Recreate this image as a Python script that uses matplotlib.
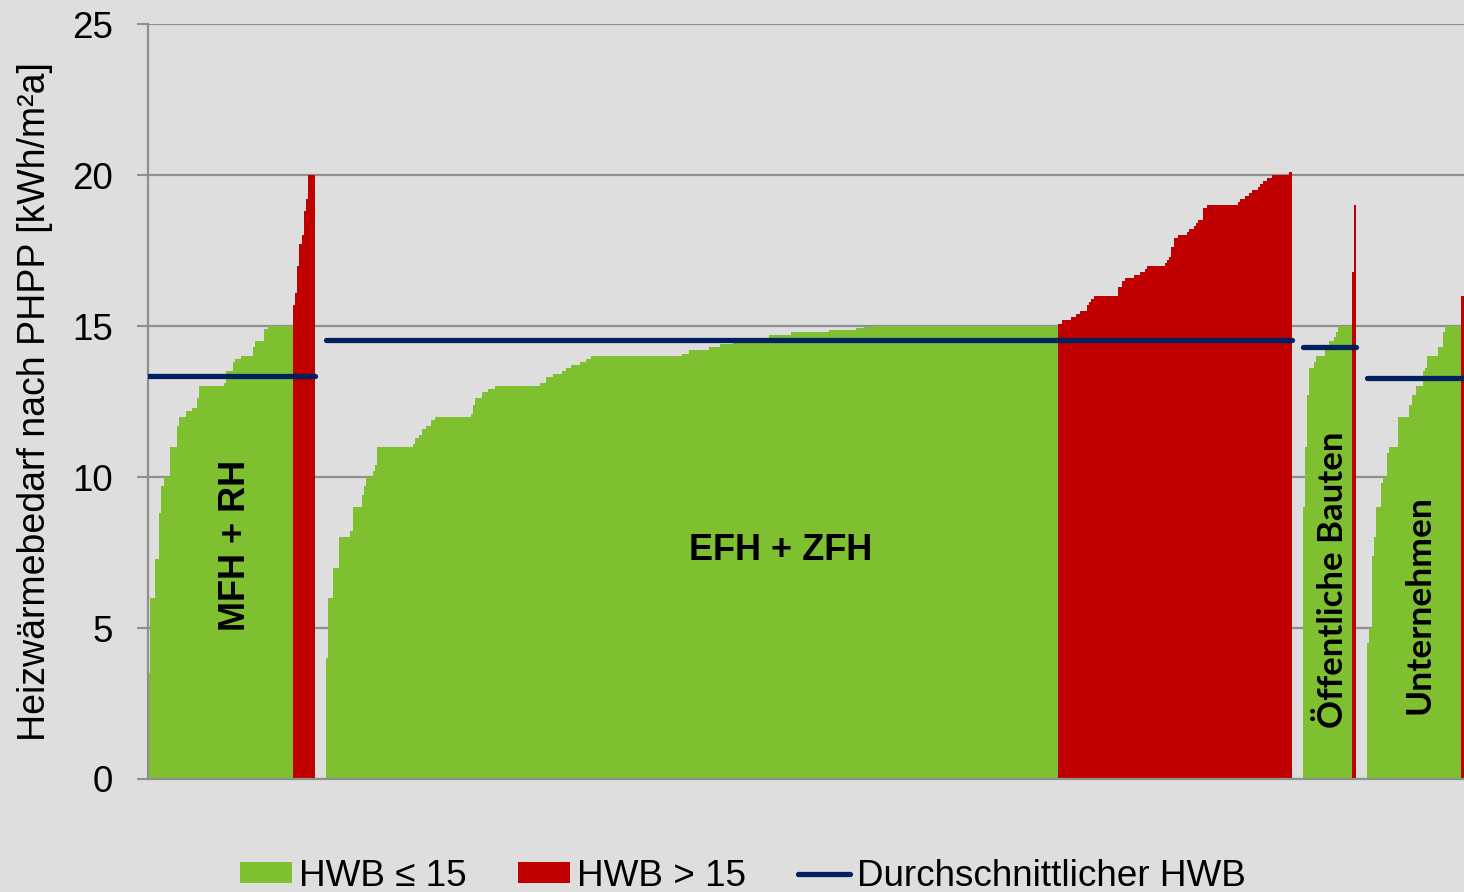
import numpy as np
import matplotlib
matplotlib.use("Agg")
import matplotlib.pyplot as plt
from matplotlib.patches import Patch
from matplotlib.lines import Line2D

plt.rcParams['font.family'] = ['Liberation Sans', 'DejaVu Sans']

# ----------------------------------------------- DATA -----------------------------------------------------------------
groups = ["MFH + RH", "EFH + ZFH", "Öffentliche Bauten", "Unternehmen"]
averages = [13.35, 14.55, 14.29, 13.29]

# sorted heating demand levels per group and how many buildings sit on each level
mfh_values = [3.5, 6.0, 7.3, 8.8, 9.7, 10.0, 11.0, 11.7, 12.0, 12.2, 12.3, 12.6, 13.0, 13.1, 13.5, 13.8,
              13.9, 14.0, 14.3, 14.5, 14.9, 15.0, 15.7, 16.1, 17.0, 17.7, 18.0, 18.8, 19.2, 20.0]
mfh_counts = [1, 2, 2, 1, 1, 3, 3, 1, 3, 3, 2, 1, 11, 1, 3, 1,
              3, 5, 1, 4, 2, 11, 1, 1, 1, 1, 1, 1, 1, 3]

efh_values = [4.0, 6.0, 7.0, 8.0, 8.2, 9.0, 9.4, 9.7, 10.0, 10.2, 10.4, 11.0, 11.1, 11.3, 11.4, 11.6,
              11.7, 11.9, 12.0, 12.1, 12.4, 12.6, 12.8, 12.9, 13.0, 13.1, 13.3, 13.4, 13.5, 13.6, 13.7,
              13.8, 13.9, 14.0, 14.07, 14.2, 14.3, 14.4, 14.55, 14.7, 14.8, 14.88, 14.93, 14.97, 15.0,
              15.08, 15.19, 15.29, 15.39, 15.49, 15.69, 15.8, 15.9, 16.0, 16.3, 16.5, 16.6, 16.7, 16.8,
              16.9, 17.0, 17.1, 17.2, 17.3, 17.6, 17.9, 18.0, 18.1, 18.2, 18.3, 18.4, 18.5, 18.9, 19.0,
              19.1, 19.2, 19.3, 19.4, 19.5, 19.6, 19.7, 19.8, 19.9, 20.0, 20.1]
efh_counts = [1, 2, 3, 5, 1, 4, 1, 1, 3, 1, 1, 16, 1, 2, 1, 2,
              2, 2, 16, 1, 1, 3, 3, 3, 20, 3, 3, 4, 2, 2, 4,
              3, 2, 41, 3, 9, 5, 6, 16, 10, 17, 12, 4, 4, 83,
              2, 4, 2, 2, 3, 1, 1, 1, 11, 2, 1, 4, 3, 2,
              1, 8, 1, 1, 1, 1, 2, 4, 1, 2, 1, 1, 2, 2, 14,
              1, 2, 2, 1, 3, 1, 1, 2, 2, 8, 1]

oeff_values = [9.0, 11.0, 12.7, 13.6, 13.8, 14.0, 14.2, 14.5, 14.65, 14.8, 15.0, 16.8, 19.0]
oeff_counts = [1, 1, 1, 2, 1, 4, 2, 2, 1, 1, 6, 1, 1]

unt_values = [4.5, 5.0, 7.4, 8.0, 9.0, 9.8, 10.0, 10.8, 11.0, 12.0, 12.4, 12.7, 13.0, 13.5, 13.6,
              14.0, 14.3, 14.8, 15.0, 16.0]
unt_counts = [1, 1, 1, 1, 2, 1, 2, 1, 4, 5, 1, 2, 3, 1, 1,
              5, 2, 1, 7, 2]

limit = 15
legend_labels = ["HWB ≤ 15", "HWB > 15", "Durchschnittlicher HWB"]

# ----------------------------------------------- STYLE ----------------------------------------------------------------
GREEN = '#7fc031'
RED = '#c00000'
NAVY = '#002060'
BG = '#dedede'
GRID = '#8f8f8f'
GAP = 5
# label centres (x offset inside group, y) and font per group
label_pos = [(39, 7.75), (204, 7.55), (13.3, 6.6), (22.9, 5.76)]
label_font = ['Liberation Sans', 'Liberation Sans', 'Lato', 'Lato']
label_rot = [90, 0, 90, 90]
label_size = [26, 26, 25, 25.5]


def main():
    fig = plt.figure(figsize=(14.64, 8.92), dpi=100, facecolor=BG)
    ax = fig.add_axes([148 / 1464, 113 / 892, 1 - 148 / 1464, 755 / 892])
    ax.set_facecolor(BG)

    all_values = [(mfh_values, mfh_counts), (efh_values, efh_counts),
                  (oeff_values, oeff_counts), (unt_values, unt_counts)]

    start = 0
    for i, (vals, cnts) in enumerate(all_values):
        h = np.repeat(vals, cnts)
        x = start + np.arange(len(h))
        colors = [GREEN if v <= limit else RED for v in h]
        ax.bar(x, h, width=1.0, color=colors, linewidth=0, antialiased=False, zorder=2)
        ax.plot([x[0] - 0.5, x[-1] + 0.5], [averages[i], averages[i]], color=NAVY, lw=3.8,
                solid_capstyle='round', zorder=4)
        lx, ly = label_pos[i]
        ax.text(start + lx, ly, groups[i], rotation=label_rot[i], ha='center', va='center',
                fontsize=label_size[i], fontweight='bold', family=label_font[i], color='black', zorder=5)
        start = x[-1] + 1 + GAP

    ax.set_xlim(-0.5, 591)
    ax.set_ylim(0, 25)
    ax.set_yticks(range(0, 26, 5))
    ax.set_xticks([])
    ax.tick_params(axis='y', labelsize=26.5, length=8, width=1.5, color=GRID, pad=17)
    ax.yaxis.grid(True, color=GRID, lw=1.6, zorder=0)
    ax.set_axisbelow(True)
    for side in ['top', 'right']:
        ax.spines[side].set_visible(False)
    for side in ['left', 'bottom']:
        ax.spines[side].set_color(GRID)
        ax.spines[side].set_linewidth(1.6)

    fig.text(35 / 1464, 1 - 402 / 892, "Heizwärmebedarf nach PHPP [kWh/m²a]", rotation=90,
             ha='center', va='center', fontsize=27)

    handles = [Patch(facecolor=GREEN, edgecolor='none'),
               Patch(facecolor=RED, edgecolor='none'),
               Line2D([0], [0], color=NAVY, lw=3.8, solid_capstyle='round')]
    fig.legend(handles, legend_labels, loc='center', bbox_to_anchor=(743 / 1464, 1 - 876 / 892),
               ncol=3, frameon=False, fontsize=26.6, handlelength=1.4, handleheight=0.5,
               handletextpad=0.2, columnspacing=1.4, borderaxespad=0, borderpad=0)

    fig.savefig("out.png", dpi=100, facecolor=BG)


if __name__ == '__main__':
    main()
